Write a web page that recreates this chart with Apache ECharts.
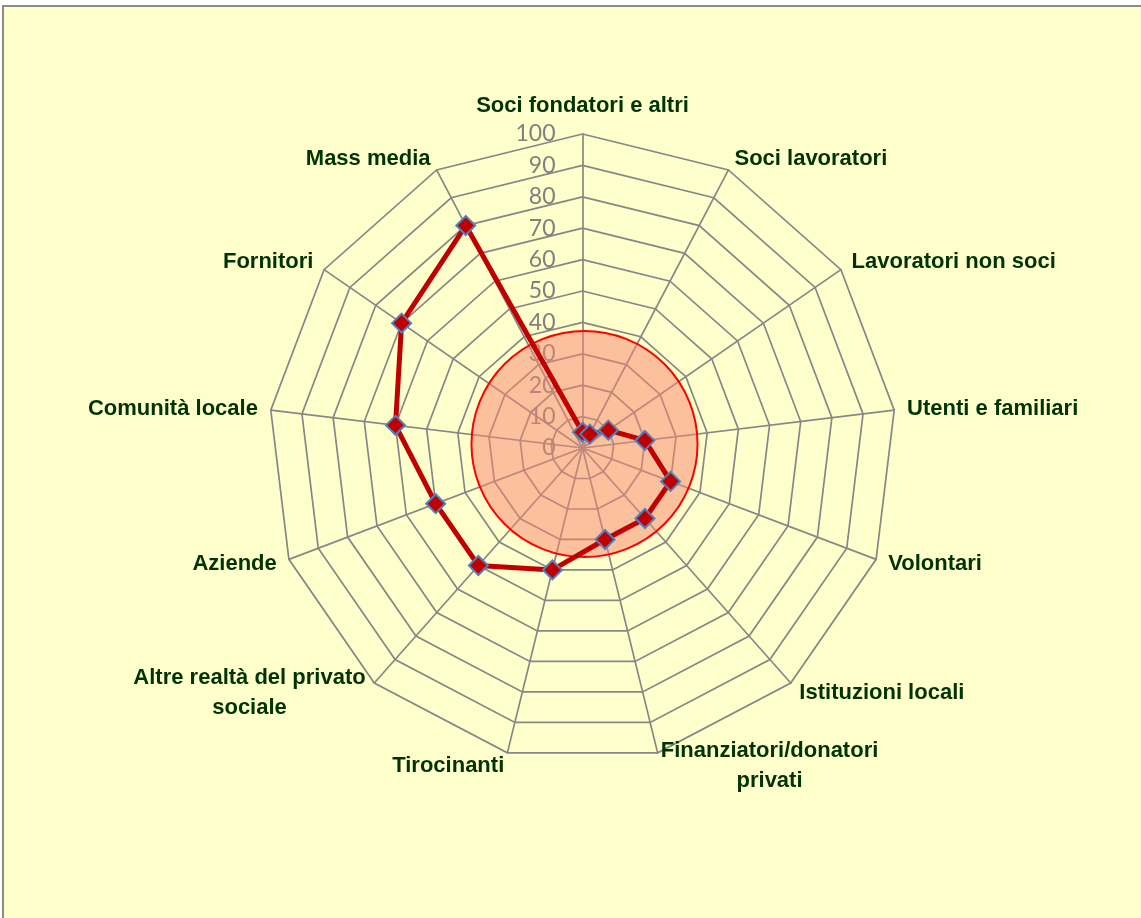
<!DOCTYPE html>
<html>
<head>
<meta charset="utf-8">
<script src="https://cdn.jsdelivr.net/npm/echarts@6/dist/echarts.min.js"></script>
<style>
  html, body { margin: 0; padding: 0; background: #ffffff; overflow: hidden; }
  .frame {
    position: absolute; left: 2px; top: 5px; width: 1200px; height: 1000px;
    background: #FFFFCC; border-left: 2px solid #8c8c8c; border-top: 2px solid #8c8c8c;
  }
  #chart { position: absolute; left: 0; top: 0; width: 1141px; height: 918px; }
</style>
</head>
<body>
<div class="frame"></div>
<div id="chart"></div>
<script>
// categorie in ordine orario, partendo dall'alto
const categories = [
  'Soci fondatori e altri',
  'Soci lavoratori',
  'Lavoratori non soci',
  'Utenti e familiari',
  'Volontari',
  'Istituzioni locali',
  'Finanziatori/donatori\nprivati',
  'Tirocinanti',
  'Altre realtà del privato\nsociale',
  'Aziende',
  'Comunità locale',
  'Fornitori',
  'Mass media'
];
const values = [5, 5, 10, 20, 30, 30, 30, 40, 50, 50, 60, 70, 80];
const axisMax = 100;
const axisStep = 10;
const circleValue = 36; // cerchio evidenziato (in unità della scala)

// echarts dispone gli assi in senso antiorario: giro la coda
const ccw = arr => [arr[0]].concat(arr.slice(1).reverse());

const radarRadius = 314;
const nameFont = "'Liberation Sans', Arial, sans-serif";
const nameSize = 22;

const chart = echarts.init(document.getElementById('chart'));

const option = {
  animation: false,
  radar: [
    {
      center: [582.5, 448],
      radius: radarRadius,
      startAngle: 90,
      splitNumber: axisMax / axisStep,
      shape: 'polygon',
      z: 0,
      indicator: ccw(categories).map((name, i) => ({
        name: name,
        min: 0,
        max: axisMax,
        axisLabel: i === 0 ? { show: true } : { show: false }
      })),
      axisNameGap: 13,
      axisName: {
        color: '#003300',
        fontFamily: nameFont,
        fontWeight: 'bold',
        fontSize: nameSize,
        lineHeight: 30,
        formatter: name => name.split('\n')
          .map((line, i) => (i === 0 ? line : '{c|' + line + '}')).join('\n'),
        rich: {
          c: {
            align: 'center',
            color: '#003300',
            fontFamily: nameFont,
            fontWeight: 'bold',
            fontSize: nameSize,
            lineHeight: 30
          }
        }
      },
      axisLine: { lineStyle: { color: '#878787', width: 1.7 } },
      splitLine: { lineStyle: { color: '#878787', width: 1.7 } },
      splitArea: { show: false },
      axisTick: { show: false },
      axisLabel: {
        show: false,
        color: '#808080',
        fontFamily: 'Lato, sans-serif',
        fontSize: 23,
        margin: 27,
        padding: [6, 0, 0, 0],
        showMinLabel: true,
        showMaxLabel: true
      }
    },
    {
      // cerchio rosso semitrasparente sopra la griglia
      center: [584.5, 444],
      radius: radarRadius * circleValue / axisMax,
      shape: 'circle',
      splitNumber: 1,
      z: 1,
      indicator: [
        { name: '', min: 0, max: 1 },
        { name: '', min: 0, max: 1 },
        { name: '', min: 0, max: 1 }
      ],
      axisName: { show: false },
      axisLine: { show: false },
      axisTick: { show: false },
      axisLabel: { show: false },
      splitLine: { lineStyle: { color: '#ff0000', width: 2 } },
      splitArea: { show: true, areaStyle: { color: ['rgba(247, 135, 112, 0.52)'] } }
    }
  ],
  series: [
    {
      type: 'radar',
      radarIndex: 0,
      z: 3,
      symbol: 'diamond',
      symbolSize: 19,
      lineStyle: { color: '#C00000', width: 5 },
      itemStyle: { color: '#C00000', borderColor: '#4F81BD', borderWidth: 2 },
      data: [{ value: ccw(values), name: 'Stakeholder' }]
    }
  ]
};

chart.setOption(option);
window.addEventListener('resize', () => chart.resize());
</script>
</body>
</html>
